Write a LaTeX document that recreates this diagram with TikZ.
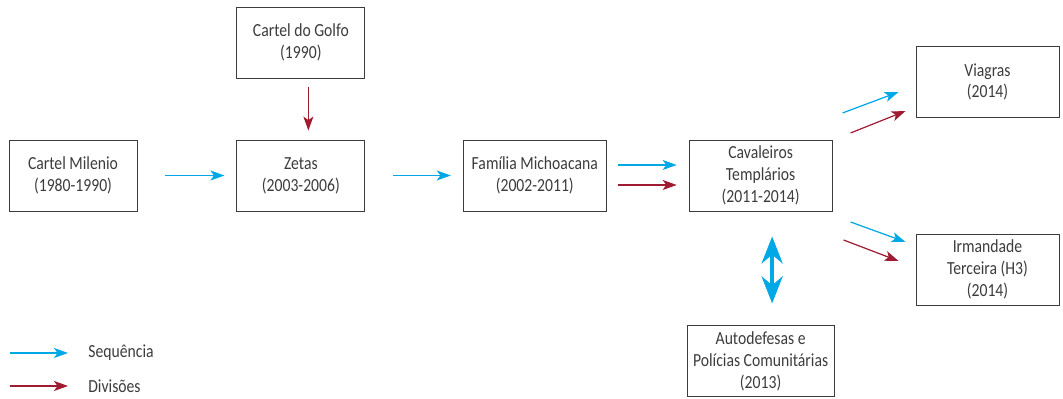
\documentclass[tikz,border=0pt]{standalone}
\usepackage{fontspec}
\setmainfont[FakeStretch=0.85]{Carlito}
\usetikzlibrary{arrows.meta,positioning}
\definecolor{azulseq}{HTML}{00A9E6}
\definecolor{vermdiv}{HTML}{9E1B32}
\definecolor{cinza}{HTML}{3C3C3C}
\tikzset{
    %Define standard arrow tip
    >={Stealth[length=0.28cm,width=0.2cm,inset=0.07cm]},
    bloco/.style={
      rectangle,
      draw=cinza, line width=0.5pt,
      minimum width=2.86cm,
      minimum height=1.42cm,
      inner ysep=1pt,
      align=center,
      text=cinza,
      font=\fontsize{10.5}{12.4}\selectfont},
    seq/.style={->, draw=azulseq, line width=0.7pt},
    div/.style={->, draw=vermdiv, line width=0.7pt},
    dupla/.style={
      {Stealth[length=0.54cm,width=0.42cm]}-{Stealth[length=0.54cm,width=0.42cm]},
      draw=azulseq, line width=2.3pt},
    legenda/.style={
      anchor=west, inner sep=0pt,
      text=cinza,
      font=\fontsize{10.5}{12.4}\selectfont},
}

\begin{document}
\begin{tikzpicture}[node distance=2cm]
    \useasboundingbox (0,0) rectangle (21.26,-7.98);
    \node (milenio) [bloco, minimum width=2.56cm] at (1.46,-3.51)
          {Cartel Milenio\\(1980-1990)};
    \node (zetas) [bloco, minimum width=2.56cm] [right=1.98cm of milenio]
          {Zetas\\(2003-2006)};
    \node (golfo) [bloco, minimum width=2.56cm] [above=1.22cm of zetas]
          {Cartel do Golfo\\(1990)};
    \node (familia) [bloco] [right=1.95cm of zetas]
          {Família Michoacana\\(2002-2011)};
    \node (cavaleiros) [bloco] [right=1.64cm of familia]
          {Cavaleiros\\Templários\\(2011-2014)};
    \node (viagras) [bloco] [right=1.66cm of cavaleiros, yshift=1.87cm]
          {Viagras\\(2014)};
    \node (irmandade) [bloco] [right=1.66cm of cavaleiros, yshift=-1.88cm]
          {Irmandade\\Terceira (H3)\\(2014)};
    \node (autodefesas) [bloco] [below=2.28cm of cavaleiros]
          {Autodefesas e\\Polícias Comunitárias\\(2013)};

    % sequencia e divisoes
    \draw [seq, shorten <=0.56cm, shorten >=0.24cm] (milenio) -- (zetas);
    \draw [div, shorten <=0.16cm, shorten >=0.18cm]
          ([xshift=0.15cm]golfo.south) -- ([xshift=0.15cm]zetas.north);
    \draw [seq, shorten <=0.56cm, shorten >=0.24cm] (zetas) -- (familia);
    \draw [seq, shorten <=0.22cm, shorten >=0.24cm]
          ([yshift=0.21cm]familia.east) -- ([yshift=0.21cm]cavaleiros.west);
    \draw [div, shorten <=0.22cm, shorten >=0.24cm]
          ([yshift=-0.19cm]familia.east) -- ([yshift=-0.19cm]cavaleiros.west);
    \draw [seq] ([shift={(0.2,1.25)}]cavaleiros.east)
          -- ([shift={(-0.34,-0.2)}]viagras.west);
    \draw [div] ([shift={(0.36,0.85)}]cavaleiros.east)
          -- ([shift={(-0.2,-0.58)}]viagras.west);
    \draw [seq] ([shift={(0.36,-0.93)}]cavaleiros.east)
          -- ([shift={(-0.2,0.55)}]irmandade.west);
    \draw [div] ([shift={(0.22,-1.29)}]cavaleiros.east)
          -- ([shift={(-0.34,0.17)}]irmandade.west);
    \draw [dupla, shorten <=0.5cm, shorten >=0.44cm]
          ([xshift=0.23cm]cavaleiros.south) -- ([xshift=0.23cm]autodefesas.north);

    % legenda
    \coordinate (legseq) at (0.2,-7.06);
    \node (seqtexto) [legenda] at (1.76,-7.06) {Sequência};
    \draw [seq, shorten >=0.4cm] (legseq) -- (seqtexto.west);
    \coordinate (legdiv) at (0.2,-7.72);
    \node (divtexto) [legenda] at (1.76,-7.72) {Divisões};
    \draw [div, shorten >=0.4cm] (legdiv) -- (divtexto.west);
\end{tikzpicture}
\end{document}
